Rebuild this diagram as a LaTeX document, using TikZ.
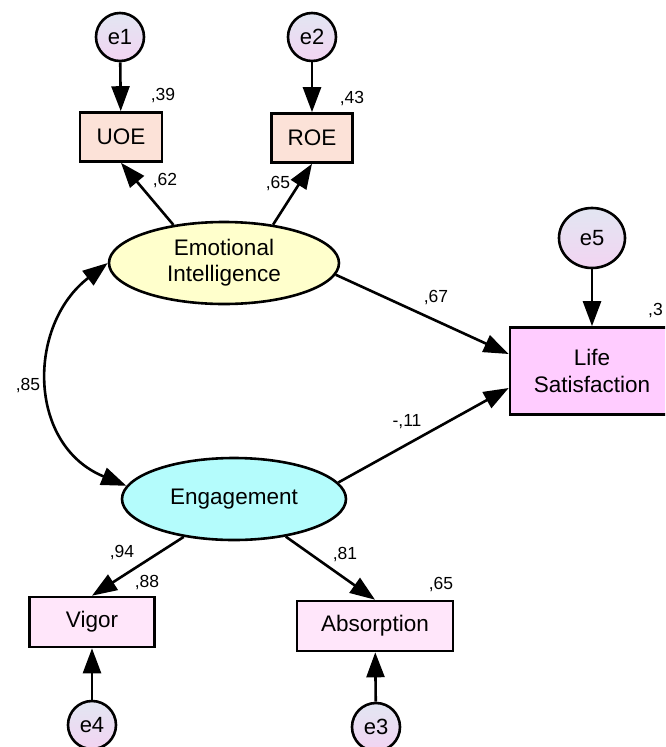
\documentclass[tikz,border=0pt]{standalone}
\usepackage{fontspec}
\setmainfont{Liberation Sans}
\usetikzlibrary{shapes.geometric,arrows.meta}
\definecolor{errtop}{RGB}{226,230,242}
\definecolor{errbot}{RGB}{242,212,242}
\definecolor{obsA}{RGB}{252,226,216}
\definecolor{eiFill}{RGB}{255,255,204}
\definecolor{engFill}{RGB}{180,252,252}
\definecolor{lsFill}{RGB}{255,204,255}
\definecolor{obsB}{RGB}{255,230,250}
\tikzset{
  errc/.style={circle,draw=black,line width=2.6pt,top color=errtop,bottom color=errbot,minimum size=48pt,inner sep=0pt,font=\fontsize{22}{24}\selectfont},
  obsbox/.style={rectangle,draw=black,line width=2.6pt,inner sep=0pt,font=\fontsize{22.5}{26}\selectfont},
  latent/.style={ellipse,draw=black,line width=2.6pt,inner sep=0pt,align=center,font=\fontsize{22.5}{26}\selectfont},
  coef/.style={inner sep=0pt,font=\fontsize{17.5}{19}\selectfont},
  path/.style={line width=2.6pt,-{Triangle[length=25pt,width=18pt]}},
  cov/.style={line width=2.6pt,{Triangle[length=25pt,width=18pt]}-{Triangle[length=25pt,width=18pt]}}
}
\begin{document}
\begin{tikzpicture}[x=1pt,y=-1pt]
\clip (0,0) rectangle (665,747);
\fill[white] (0,0) rectangle (665,747);
% error terms
\node[errc] (e1) at (120,37) {e1};
\node[errc] (e2) at (312,37) {e2};
\node[errc,ellipse,minimum width=66pt,minimum height=60pt] (e5) at (592,238) {e5};
\node[errc] (e4) at (92,725) {e4};
\node[errc] (e3) at (376,727) {e3};
% observed
\node[obsbox,fill=obsA,minimum width=82pt,minimum height=49pt] (UOE) at (121,137) {UOE};
\node[obsbox,fill=obsA,minimum width=81pt,minimum height=49pt] (ROE) at (312,138) {ROE};
\node[obsbox,fill=lsFill,minimum width=164pt,minimum height=87pt,align=center,font=\fontsize{22.5}{27}\selectfont] (LS) at (592,371) {Life\\Satisfaction};
\node[obsbox,fill=obsB,minimum width=125pt,minimum height=50pt] (Vig) at (92,622) {Vigor};
\node[obsbox,fill=obsB,minimum width=156pt,minimum height=50pt] (Abs) at (375,626) {Absorption};
% latent
\node[latent,fill=eiFill,minimum width=230pt,minimum height=82pt] (EI) at (224,263) {Emotional\\Intelligence};
\node[latent,fill=engFill,minimum width=224pt,minimum height=82pt] (Eng) at (234,499) {Engagement};
% paths
\draw[path] (e1) -- (UOE);
\draw[path] (e2) -- (ROE);
\draw[path] (e5) -- (LS);
\draw[path] (e4) -- (Vig);
\draw[path] (e3) -- (Abs);
\draw[path] (EI.143) -- (UOE.south);
\draw[path] (EI.38) -- (ROE.south);
\draw[path] (EI.-6) -- ([yshift=17pt]LS.west);
\draw[path] (Eng.9) -- ([yshift=-17pt]LS.west);
\draw[path] (Eng.217) -- (Vig.north);
\draw[path] (Eng.-36) -- (Abs.north);
\draw[cov] (EI.west) .. controls (27,325) and (27,445) .. (Eng.173);
% coefficients
\node[coef] (c39) at (163,96) {,39};
\node[coef] (c43) at (352,99) {,43};
\node[coef] (c62) at (165,181) {,62};
\node[coef] (c65a) at (278,184) {,65};
\node[coef] (c67) at (436,298) {,67};
\node[coef] (c11) at (407,422) {-,11};
\node[coef] (c85) at (28,386) {,85};
\node[coef,anchor=west] (c3) at (648,311) {,3};
\node[coef] (c94) at (122,553) {,94};
\node[coef] (c88) at (147,583) {,88};
\node[coef] (c81) at (345,555) {,81};
\node[coef] (c65b) at (441,585) {,65};
\end{tikzpicture}
\end{document}
